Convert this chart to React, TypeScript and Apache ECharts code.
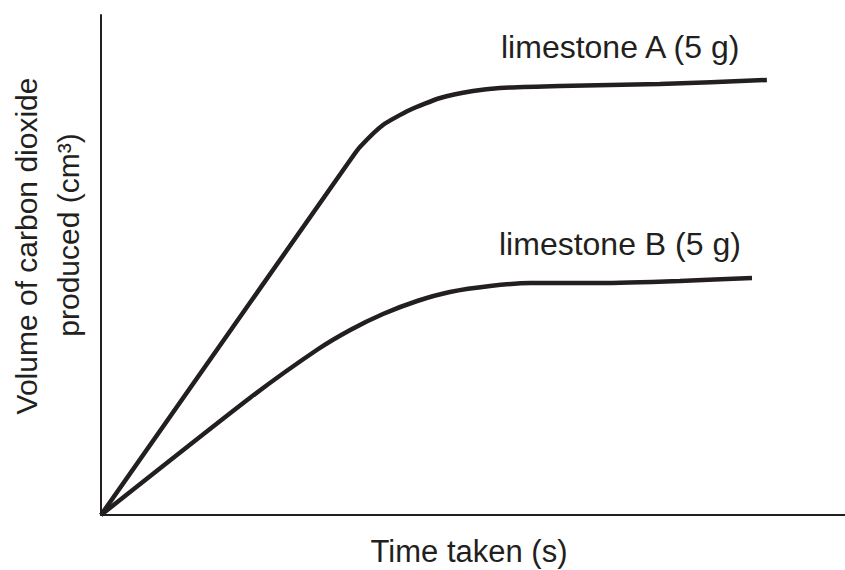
import React, { useEffect, useRef } from "react";
import * as echarts from "echarts";

const seriesNames = ["limestone A (5 g)", "limestone B (5 g)"];
const timeA = [0, 33.5, 34.8, 37.9, 41.5, 45.6, 50.0, 53.6, 61.7, 75.1, 89.5];
const volumeA = [0, 71, 73.6, 78, 81, 83.4, 84.8, 85.4, 85.8, 86.2, 87];
const timeB = [0, 20, 29, 33.5, 37.9, 42.5, 46.9, 52.3, 57.7, 67.1, 77.8, 87.5];
const volumeB = [0, 23.4, 33, 37, 40.2, 42.8, 44.6, 45.8, 46.4, 46.4, 46.8, 47.4];
const xAxisTitle = "Time taken (s)";
const yAxisTitleLines = ["Volume of carbon dioxide", "produced (cm³)"];

const INK = "#231f20";
const FONT = "'Liberation Sans', Arial, Helvetica, sans-serif";

export default function App() {
  const ref = useRef<HTMLDivElement>(null);
  useEffect(() => {
    if (!ref.current) return;
    const chart = echarts.init(ref.current, undefined, { renderer: "svg" });
    const pairs = (xs: number[], ys: number[]) => xs.map((x, i) => [x, ys[i]]);
    chart.setOption({
      animation: false,
      backgroundColor: "#ffffff",
      grid: { left: 101, right: 0, top: 15, bottom: 55 },
      xAxis: {
        type: "value",
        min: 0,
        max: 100,
        axisLine: { show: true, onZero: false, lineStyle: { color: INK, width: 2 } },
        axisTick: { show: false },
        axisLabel: { show: false },
        splitLine: { show: false },
      },
      yAxis: {
        type: "value",
        min: 0,
        max: 100,
        axisLine: { show: true, onZero: false, lineStyle: { color: INK, width: 2 } },
        axisTick: { show: false },
        axisLabel: { show: false },
        splitLine: { show: false },
      },
      series: [
        {
          name: seriesNames[0],
          type: "line",
          data: pairs(timeA, volumeA),
          showSymbol: false,
          smooth: 0.2,
          lineStyle: { color: INK, width: 4.5 },
        },
        {
          name: seriesNames[1],
          type: "line",
          data: pairs(timeB, volumeB),
          showSymbol: false,
          smooth: 0.2,
          lineStyle: { color: INK, width: 4.5 },
        },
      ],
      graphic: [
        {
          type: "text",
          x: 501,
          y: 47,
          style: { text: seriesNames[0], fill: INK, font: `32px ${FONT}`, textAlign: "left", textVerticalAlign: "middle" },
        },
        {
          type: "text",
          x: 499,
          y: 244,
          style: { text: seriesNames[1], fill: INK, font: `32px ${FONT}`, textAlign: "left", textVerticalAlign: "middle" },
        },
        {
          type: "text",
          x: 469,
          y: 551,
          style: { text: xAxisTitle, fill: INK, font: `31px ${FONT}`, textAlign: "center", textVerticalAlign: "middle" },
        },
        {
          type: "text",
          x: 26,
          y: 246,
          rotation: Math.PI / 2,
          style: { text: yAxisTitleLines[0], fill: INK, font: `30px ${FONT}`, textAlign: "center", textVerticalAlign: "middle" },
        },
        {
          type: "text",
          x: 68,
          y: 235,
          rotation: Math.PI / 2,
          style: { text: yAxisTitleLines[1], fill: INK, font: `30px ${FONT}`, textAlign: "center", textVerticalAlign: "middle" },
        },
      ],
    });
    return () => chart.dispose();
  }, []);
  return <div ref={ref} style={{ width: 845, height: 570, position: "absolute", left: 0, top: 0 }} />;
}
